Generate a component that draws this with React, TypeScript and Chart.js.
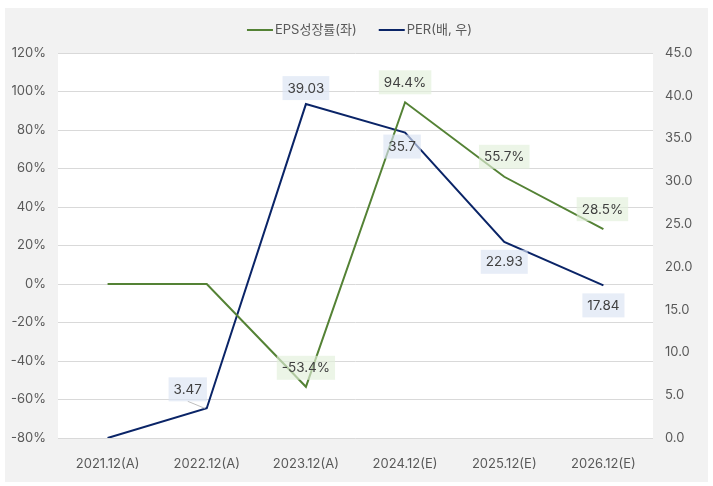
import React, { useEffect, useRef } from "react";
import { Chart, registerables } from "chart.js";

Chart.register(...registerables);

const categories = ["2021.12(A)", "2022.12(A)", "2023.12(A)", "2024.12(E)", "2025.12(E)", "2026.12(E)"];
const epsGrowth = [0, 0, -53.4, 94.4, 55.7, 28.5];
const epsLabels = [null, null, "-53.4%", "94.4%", "55.7%", "28.5%"];
const per = [0, 3.47, 39.03, 35.7, 22.93, 17.84];
const perLabels = [null, "3.47", "39.03", "35.7", "22.93", "17.84"];
const leftTicks = { min: -80, max: 120, step: 20 };
const rightTicks = { min: 0, max: 45, step: 5 };

// label placement relative to the point (dx, dy)
const epsOffsets = [[0, 0], [0, 0], [0, -19], [0, -20], [0, -20], [-1, -20]];
const perOffsets = [[0, 0], [-19, -19], [0, -16], [-3, 14], [0, 20], [0, 20]];

const FONT = "Inter, 'Noto Sans CJK KR', 'Noto Sans', sans-serif";
const GREEN = "#548235";
const NAVY = "#0a2467";
const TEXT = "#595959";

const bgPlugin = {
  id: "bg",
  beforeDraw(chart: any) {
    const { ctx, chartArea } = chart;
    ctx.save();
    ctx.fillStyle = "#F2F2F2";
    ctx.fillRect(5, 8, 703, 474);
    ctx.fillStyle = "#FFFFFF";
    ctx.fillRect(chartArea.left, chartArea.top, chartArea.right - chartArea.left, chartArea.bottom - chartArea.top);
    ctx.restore();
  },
};

const legendPlugin = {
  id: "customLegend",
  afterDraw(chart: any) {
    const ctx = chart.ctx;
    ctx.save();
    ctx.font = `13px ${FONT}`;
    const items = [
      { text: "EPS성장률(좌)", color: GREEN },
      { text: "PER(배, 우)", color: NAVY },
    ];
    const lineLen = 26;
    const gap = 2;
    const itemGap = 22;
    const widths = items.map((it) => lineLen + gap + ctx.measureText(it.text).width);
    const total = widths.reduce((a, b) => a + b, 0) + itemGap * (items.length - 1);
    let x = 359.5 - total / 2;
    const y = 30;
    items.forEach((it, i) => {
      ctx.strokeStyle = it.color;
      ctx.lineWidth = 2;
      ctx.beginPath();
      ctx.moveTo(x, y);
      ctx.lineTo(x + lineLen, y);
      ctx.stroke();
      ctx.fillStyle = TEXT;
      ctx.textBaseline = "middle";
      ctx.textAlign = "left";
      ctx.fillText(it.text, x + lineLen + gap, y);
      x += widths[i] + itemGap;
    });
    ctx.restore();
  },
};

const labelPlugin = {
  id: "dataLabels",
  afterDatasetsDraw(chart: any) {
    const ctx = chart.ctx;
    const sets = [
      { labels: epsLabels, offsets: epsOffsets, bg: "rgba(226,239,218,0.65)" },
      { labels: perLabels, offsets: perOffsets, bg: "rgba(218,227,243,0.65)" },
    ];
    ctx.save();
    ctx.font = `13.5px ${FONT}`;
    ctx.textAlign = "center";
    ctx.textBaseline = "middle";
    sets.forEach((s, di) => {
      const meta = chart.getDatasetMeta(di);
      meta.data.forEach((pt: any, i: number) => {
        const text = s.labels[i];
        if (!text) return;
        const [dx, dy] = s.offsets[i];
        const cx = pt.x + dx;
        const cy = pt.y + dy;
        const w = ctx.measureText(text).width + 10;
        const h = 24;
        if (Math.abs(dx) > 8) {
          ctx.strokeStyle = "#BFBFBF";
          ctx.lineWidth = 1;
          ctx.beginPath();
          ctx.moveTo(cx, cy + h / 2);
          ctx.lineTo(pt.x - 2, pt.y);
          ctx.stroke();
        }
        ctx.fillStyle = s.bg;
        ctx.fillRect(cx - w / 2, cy - h / 2, w, h);
        ctx.fillStyle = "#404040";
        ctx.fillText(text, cx, cy + 0.5);
      });
    });
    ctx.restore();
  },
};

export default function App() {
  const ref = useRef<HTMLCanvasElement | null>(null);
  useEffect(() => {
    if (!ref.current) return;
    const chart = new Chart(ref.current, {
      type: "line",
      data: {
        labels: categories,
        datasets: [
          {
            label: "EPS성장률(좌)",
            data: epsGrowth,
            borderColor: GREEN,
            borderWidth: 2,
            pointRadius: 0,
            tension: 0,
            yAxisID: "y",
          },
          {
            label: "PER(배, 우)",
            data: per,
            borderColor: NAVY,
            borderWidth: 2,
            pointRadius: 0,
            tension: 0,
            yAxisID: "y1",
          },
        ],
      },
      options: {
        animation: false,
        responsive: false,
        devicePixelRatio: 1,
        layout: { padding: { top: 53, left: 0, right: 0, bottom: 0 } },
        plugins: { legend: { display: false }, tooltip: { enabled: false } },
        scales: {
          x: {
            offset: true,
            grid: { display: false },
            border: { display: false },
            ticks: { color: TEXT, font: { family: FONT, size: 13 }, padding: 10, maxRotation: 0 },
            afterFit(scale: any) {
              scale.height = 48;
            },
          },
          y: {
            position: "left",
            min: leftTicks.min,
            max: leftTicks.max,
            ticks: {
              stepSize: leftTicks.step,
              color: TEXT,
              font: { family: FONT, size: 13 },
              padding: 12,
              callback: (v: any) => `${v}%`,
            },
            grid: { color: "#D9D9D9", drawTicks: false },
            border: { display: false },
            afterFit(scale: any) {
              scale.width = 58;
            },
          },
          y1: {
            position: "right",
            min: rightTicks.min,
            max: rightTicks.max,
            ticks: {
              stepSize: rightTicks.step,
              color: TEXT,
              font: { family: FONT, size: 13 },
              padding: 12,
              callback: (v: any) => Number(v).toFixed(1),
            },
            grid: { display: false, drawTicks: false },
            border: { display: false },
            afterFit(scale: any) {
              scale.width = 60;
            },
          },
        },
      },
      plugins: [bgPlugin, legendPlugin, labelPlugin],
    } as any);
    return () => chart.destroy();
  }, []);
  return (
    <div style={{ position: "fixed", left: 0, top: 0, width: 713, height: 486 }}>
      <canvas ref={ref} width={713} height={486} style={{ width: 713, height: 486 }} />
    </div>
  );
}
